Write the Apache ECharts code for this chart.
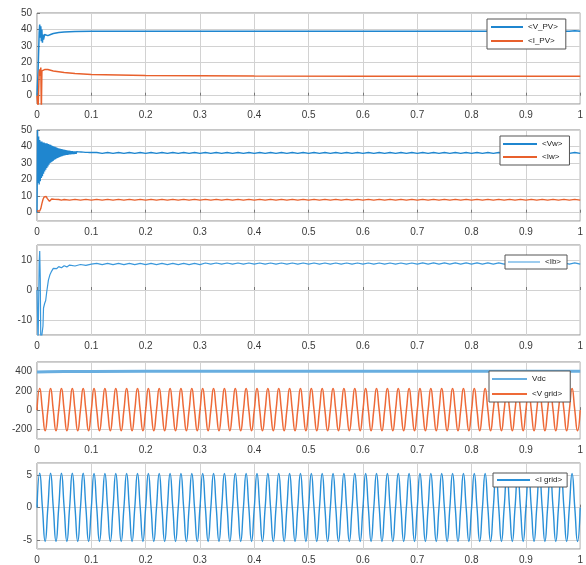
<!DOCTYPE html>
<html>
<head>
<meta charset="utf-8">
<script src="https://cdn.jsdelivr.net/npm/echarts/dist/echarts.min.js"></script>
<style>html,body{margin:0;padding:0;background:#fff;}#c{width:586px;height:565px;}</style>
</head>
<body>
<div id="c"></div>
<script>
// ---------- DATA ----------
// Panel 1: PV voltage / current
const pvTime = [0, 0.002, 0.004, 0.005, 0.006, 0.007, 0.008, 0.009, 0.010, 0.011, 0.012, 0.014, 0.016, 0.02, 0.025, 0.03, 0.04, 0.05, 0.07, 0.1, 0.2, 0.4, 0.6, 0.8, 0.98, 0.99, 1.0];
const vPV = [0, 15, 38, 43, 35, 42, 33, 40, 32, 37, 34, 37, 36, 36.3, 37, 37.6, 38.2, 38.5, 38.8, 38.9, 38.9, 38.9, 38.9, 38.9, 38.9, 39.3, 38.9];
const iPV = [0, -8, 14, 16, 12, 17, -8, 15, 14.5, 16, 15.5, 15.8, 16, 15.8, 15.4, 15, 14.5, 14, 13.4, 12.8, 12.2, 11.9, 11.8, 11.8, 11.8, 11.8, 11.8];

// Panel 2: wind voltage (transient sampled every 1 ms from 0 to 0.1 s, then every 10 ms from 0.11 s)
const vwTransient = [
  0, 50, 18, 46, 17, 44, 19, 43, 21, 43,
  22, 42.5, 23.5, 42.5, 25, 42, 26, 42, 27, 41.8,
  28, 41.5, 29, 41.2, 30, 41, 30.5, 40.6, 31, 40.3,
  31.5, 40, 32, 39.8, 32.4, 39.5, 32.8, 39.3, 33.1, 39,
  33.4, 38.8, 33.7, 38.6, 34, 38.5, 34.2, 38.3, 34.4, 38.1,
  34.6, 38, 34.8, 37.8, 34.9, 37.7, 35, 37.6, 35.1, 37.5,
  35.2, 37.4, 35.3, 37.3, 35.4, 37.2, 35.5, 37.1, 35.5, 37,
  35.6, 37, 35.6, 36.9, 35.7, 36.9, 35.7, 36.8, 35.8, 36.8,
  35.8, 36.7, 35.8, 36.7, 35.8, 36.6, 35.8, 36.6, 35.8, 36.5,
  35.8, 36.5, 35.8, 36.5, 35.8, 36.4, 35.8, 36.4, 35.8, 36.4,
  35.8
];
const vwSteady = [
  36.4,35.85,36.4,35.85,36.4,35.85,36.4,35.85,36.4,35.85,
  36.4,35.85,36.4,35.85,36.4,35.85,36.4,35.85,36.4,35.85,
  36.4,35.85,36.4,35.85,36.4,35.85,36.4,35.85,36.4,35.85,
  36.4,35.85,36.4,35.85,36.4,35.85,36.4,35.85,36.4,35.85,
  36.4,35.85,36.4,35.85,36.4,35.85,36.4,35.85,36.4,35.85,
  36.4,35.85,36.4,35.85,36.4,35.85,36.4,35.85,36.4,35.85,
  36.4,35.85,36.4,35.85,36.4,35.85,36.4,35.85,36.4,35.85,
  36.4,35.85,36.4,35.85,36.4,35.85,36.4,35.85,36.4,35.85,
  36.4,35.85,36.4,35.85,36.4,35.85,36.4,35.85,36.4,35.85
];
// wind current
const iwTime = [0, 0.005, 0.007, 0.009, 0.011, 0.013, 0.015, 0.017, 0.019, 0.021, 0.023, 0.025, 0.027, 0.03, 0.033, 0.036, 0.04, 0.045, 0.05];
const iw = [1, 1, 2.5, 5.5, 8, 9.5, 10.3, 9.8, 8.5, 7.4, 6.9, 7.5, 8.3, 7.6, 8.1, 7.6, 8.0, 7.6, 8.0];
const iwSteady = [
  7.6,8.05,7.6,8.05,7.6,8.05,7.6,8.05,7.6,8.05,
  7.6,8.05,7.6,8.05,7.6,8.05,7.6,8.05,7.6,8.05,
  7.6,8.05,7.6,8.05,7.6,8.05,7.6,8.05,7.6,8.05,
  7.6,8.05,7.6,8.05,7.6,8.05,7.6,8.05,7.6,8.05,
  7.6,8.05,7.6,8.05,7.6,8.05,7.6,8.05,7.6,8.05,
  7.6,8.05,7.6,8.05,7.6,8.05,7.6,8.05,7.6,8.05,
  7.6,8.05,7.6,8.05,7.6,8.05,7.6,8.05,7.6,8.05,
  7.6,8.05,7.6,8.05,7.6,8.05,7.6,8.05,7.6,8.05,
  7.6,8.05,7.6,8.05,7.6,8.05,7.6,8.05,7.6,8.05,
  7.6,8.05,7.6,8.05,7.6
];

// Panel 3: battery current
const ibTime = [0, 0.002, 0.004, 0.005, 0.006, 0.007, 0.009, 0.011, 0.012, 0.014, 0.016, 0.018, 0.021, 0.024, 0.027, 0.03, 0.033, 0.036, 0.04, 0.045, 0.05, 0.055, 0.06, 0.07, 0.08, 0.09, 0.1];
const ib = [0, -18, 9, 13, 4, -18, -18, -12, -6, -4.5, -3.5, -0.5, 3.3, 5.2, 6.3, 7.2, 7.6, 7.1, 7.8, 7.4, 8.1, 7.7, 8.3, 8.0, 8.5, 8.2, 8.6];
const ibSteady = [
  8.85,8.45,8.85,8.45,8.85,8.45,8.85,8.45,8.85,8.45,
  8.85,8.45,8.85,8.45,8.85,8.45,8.85,8.45,8.85,8.45,
  9.0,8.6,9.0,8.6,9.0,8.6,9.0,8.6,9.0,8.6,
  9.0,8.6,9.0,8.6,9.0,8.6,9.0,8.6,9.0,8.6,
  9.0,8.6,9.0,8.6,9.0,8.6,9.0,8.6,9.0,8.6,
  9.0,8.6,9.0,8.6,9.0,8.6,9.0,8.6,9.0,8.6,
  9.05,8.65,9.05,8.65,9.05,8.65,9.05,8.65,9.05,8.65,
  9.05,8.65,9.05,8.65,9.05,8.65,9.05,8.65,9.05,8.65,
  9.05,8.65,9.05,8.65,9.05,8.65,9.05,8.65,9.05,8.65
];

// Panel 4: DC bus and grid voltage (grid voltage sampled every 5 ms)
const vdcTime = [0, 0.02, 0.05, 0.1, 0.2, 0.4, 0.6, 0.8, 1.0];
const vdc = [396, 399, 401, 402, 403, 403, 403, 403, 403];
const vGrid = [
  0,225,0,-213, 0,225,0,-213, 0,225,0,-213, 0,225,0,-213, 0,225,0,-213,
  0,225,0,-213, 0,225,0,-213, 0,225,0,-213, 0,225,0,-213, 0,225,0,-213,
  0,225,0,-213, 0,225,0,-213, 0,225,0,-213, 0,225,0,-213, 0,225,0,-213,
  0,225,0,-213, 0,225,0,-213, 0,225,0,-213, 0,225,0,-213, 0,225,0,-213,
  0,225,0,-213, 0,225,0,-213, 0,225,0,-213, 0,225,0,-213, 0,225,0,-213,
  0,225,0,-213, 0,225,0,-213, 0,225,0,-213, 0,225,0,-213, 0,225,0,-213,
  0,225,0,-213, 0,225,0,-213, 0,225,0,-213, 0,225,0,-213, 0,225,0,-213,
  0,225,0,-213, 0,225,0,-213, 0,225,0,-213, 0,225,0,-213, 0,225,0,-213,
  0,225,0,-213, 0,225,0,-213, 0,225,0,-213, 0,225,0,-213, 0,225,0,-213,
  0,225,0,-213, 0,225,0,-213, 0,225,0,-213, 0,225,0,-213, 0,225,0,-213,
  0
];

// Panel 5: grid current (sampled every 5 ms)
const iGrid = [
  0,5.25,0,-5.15, 0,5.25,0,-5.15, 0,5.25,0,-5.15, 0,5.25,0,-5.15, 0,5.25,0,-5.15,
  0,5.2,0,-5.15, 0,5.2,0,-5.15, 0,5.2,0,-5.15, 0,5.2,0,-5.15, 0,5.2,0,-5.15,
  0,5.2,0,-5.15, 0,5.2,0,-5.15, 0,5.2,0,-5.15, 0,5.2,0,-5.15, 0,5.2,0,-5.15,
  0,5.2,0,-5.15, 0,5.2,0,-5.15, 0,5.2,0,-5.15, 0,5.2,0,-5.15, 0,5.2,0,-5.15,
  0,5.2,0,-5.15, 0,5.2,0,-5.15, 0,5.2,0,-5.15, 0,5.2,0,-5.15, 0,5.2,0,-5.15,
  0,5.2,0,-5.15, 0,5.2,0,-5.15, 0,5.2,0,-5.15, 0,5.2,0,-5.15, 0,5.2,0,-5.15,
  0,5.2,0,-5.15, 0,5.2,0,-5.15, 0,5.2,0,-5.15, 0,5.2,0,-5.15, 0,5.2,0,-5.15,
  0,5.2,0,-5.15, 0,5.2,0,-5.15, 0,5.2,0,-5.15, 0,5.2,0,-5.15, 0,5.2,0,-5.15,
  0,5.2,0,-5.15, 0,5.2,0,-5.15, 0,5.2,0,-5.15, 0,5.2,0,-5.15, 0,5.2,0,-5.15,
  0,5.2,0,-5.15, 0,5.2,0,-5.15, 0,5.2,0,-5.15, 0,5.2,0,-5.15, 0,5.2,0,-5.15,
  0
];

// axis settings (ranges and tick steps)
const xRange = [0, 1, 0.1];
const yRanges = [[-5, 50, 10], [-5, 50, 10], [-15, 15, 10], [-300, 500, 200], [-6.3, 6.8, 5]];
const seriesNames = [['<V_PV>', '<I_PV>'], ['<Vw>', '<Iw>'], ['<Ib>'], ['Vdc', '<V grid>'], ['<I grid>']];

// ---------- helpers ----------
function pairs(times, values) { return values.map((v, i) => [times[i], v]); }
function sampled(t0, dt, values) { return values.map((v, i) => [Math.round((t0 + i * dt) * 10000) / 10000, v]); }

// ---------- layout ----------
const grids = [
  { top: 13, height: 91 },
  { top: 130, height: 91 },
  { top: 245, height: 90 },
  { top: 362, height: 77 },
  { top: 463, height: 89 }
];
const FONT = 'Liberation Sans, Arial, Helvetica, sans-serif';
const labelColor = '#3a3a3a';
const gridLineColor = '#d2d2d2';

const option = {
  animation: false,
  backgroundColor: '#fff',
  grid: grids.map(g => ({ left: 37, right: 4, top: g.top, height: g.height, show: true, borderColor: '#8c8c8c', borderWidth: 1, backgroundColor: '#fff' })),
  xAxis: grids.map((g, i) => ({
    type: 'value', gridIndex: i, min: xRange[0], max: xRange[1], interval: xRange[2],
    axisLine: { show: false },
    axisTick: { show: true, inside: true, length: 3, lineStyle: { color: '#777' } },
    axisLabel: { fontSize: 10, color: labelColor, margin: 6, fontFamily: FONT },
    splitLine: { show: true, lineStyle: { color: gridLineColor, width: 1 } }
  })),
  yAxis: yRanges.map((r, i) => ({
    type: 'value', gridIndex: i, min: r[0], max: r[1], splitNumber: Math.round((r[1] - r[0]) / r[2]),
    minInterval: r[2], maxInterval: r[2],
    axisLine: { show: false },
    axisTick: { show: true, inside: true, length: 3, lineStyle: { color: '#777' } },
    axisLabel: {
      fontSize: 10, color: labelColor, margin: 5, fontFamily: FONT,
      showMinLabel: false,
      showMaxLabel: Math.abs(r[1] / r[2] - Math.round(r[1] / r[2])) < 1e-9,
      formatter: v => (Math.abs(v / r[2] - Math.round(v / r[2])) < 1e-9 ? String(v) : '')
    },
    splitLine: { show: true, lineStyle: { color: gridLineColor, width: 1 } }
  })),
  legend: [
    { data: seriesNames[0], left: 487, top: 19, orient: 'vertical', itemWidth: 32, itemHeight: 2, itemGap: 6, padding: [4, 8, 4, 4] },
    { data: seriesNames[1], left: 500, top: 136, orient: 'vertical', itemWidth: 34, itemHeight: 2, itemGap: 5, padding: [4, 7, 4, 3] },
    { data: seriesNames[2], left: 505, top: 255, orient: 'vertical', itemWidth: 32, itemHeight: 1, itemGap: 4, padding: [3, 6, 3, 3] },
    { data: seriesNames[3], left: 489, top: 371, orient: 'vertical', itemWidth: 35, itemHeight: 2, itemGap: 7, padding: [4, 8, 4, 3] },
    { data: seriesNames[4], left: 493, top: 473, orient: 'vertical', itemWidth: 33, itemHeight: 2, itemGap: 4, padding: [3, 5, 3, 4] }
  ].map(l => Object.assign({
    icon: 'rect', backgroundColor: '#fff', borderColor: '#555', borderWidth: 1, borderRadius: 0,
    selectedMode: false, textStyle: { fontSize: 8, color: '#222', fontFamily: FONT, padding: [0, 0, 0, 0] }
  }, l)),
  series: [
    { name: seriesNames[0][0], xAxisIndex: 0, yAxisIndex: 0, data: pairs(pvTime, vPV), color: '#1f86cf', lineStyle: { width: 1.5 } },
    { name: seriesNames[0][1], xAxisIndex: 0, yAxisIndex: 0, data: pairs(pvTime, iPV), color: '#e8602c', lineStyle: { width: 1.5 } },
    { name: seriesNames[1][0], xAxisIndex: 1, yAxisIndex: 1, data: sampled(0, 0.001, vwTransient).concat(sampled(0.11, 0.01, vwSteady)), color: '#1f86cf', lineStyle: { width: 1.4 } },
    { name: seriesNames[1][1], xAxisIndex: 1, yAxisIndex: 1, data: pairs(iwTime, iw).concat(sampled(0.06, 0.01, iwSteady)), color: '#e8602c', lineStyle: { width: 1.4 } },
    { name: seriesNames[2][0], xAxisIndex: 2, yAxisIndex: 2, data: pairs(ibTime, ib).concat(sampled(0.11, 0.01, ibSteady)), color: '#3a98dc', lineStyle: { width: 1.2 } },
    { name: seriesNames[3][0], xAxisIndex: 3, yAxisIndex: 3, data: pairs(vdcTime, vdc), color: '#68aee0', lineStyle: { width: 3 } },
    { name: seriesNames[3][1], xAxisIndex: 3, yAxisIndex: 3, data: sampled(0, 0.005, vGrid), color: '#ee6a38', lineStyle: { width: 1.5 }, smooth: 0.55 },
    { name: seriesNames[4][0], xAxisIndex: 4, yAxisIndex: 4, data: sampled(0, 0.005, iGrid), color: '#2a90d8', lineStyle: { width: 1.4 }, smooth: 0.55 }
  ].map(s => Object.assign({ type: 'line', showSymbol: false, symbol: 'none', clip: true }, s))
};

const chart = echarts.init(document.getElementById('c'), null, { renderer: 'canvas' });
chart.setOption(option);
</script>
</body>
</html>
